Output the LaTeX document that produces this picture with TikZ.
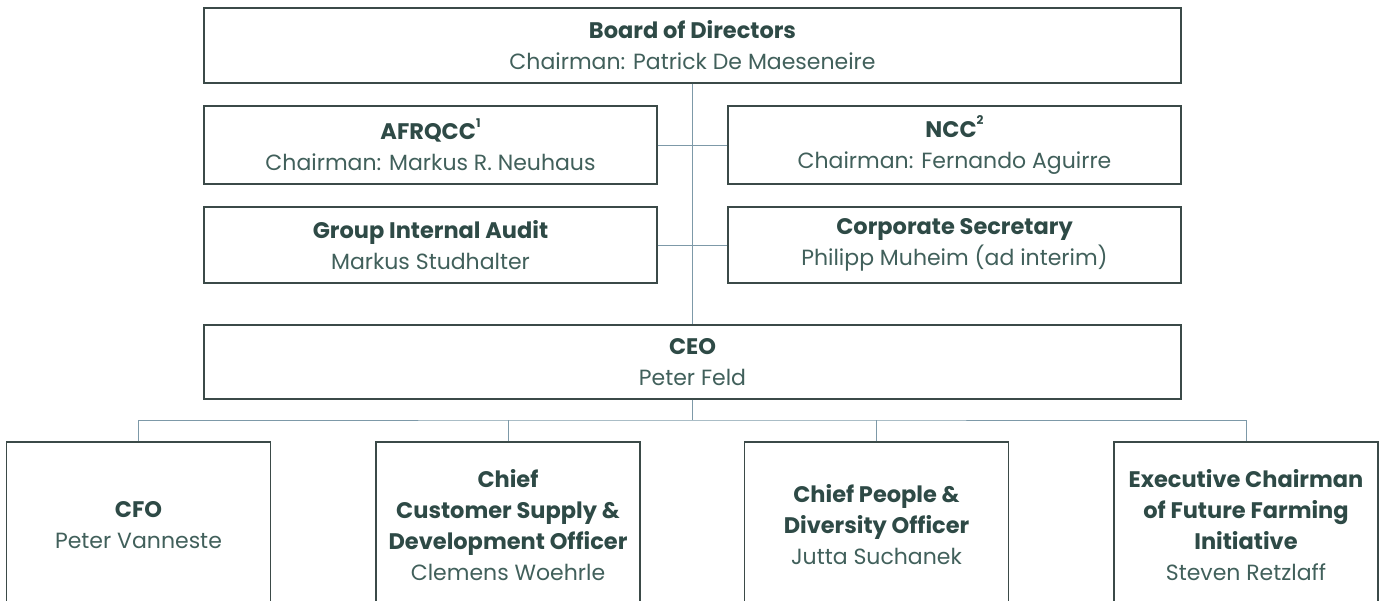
\documentclass[tikz,border=0pt]{standalone}
\usepackage{fontspec}
\setmainfont{Poppins}
\definecolor{titlec}{HTML}{2E4A46}
\definecolor{namec}{HTML}{41605B}
\definecolor{boxc}{HTML}{3B4A48}
\definecolor{linec}{HTML}{7D99A8}
\newcommand{\ttl}[1]{{\fontsize{22.5}{31}\selectfont\bfseries\color{titlec}#1}}
\newcommand{\nm}[1]{{\fontsize{22}{31}\selectfont\color{namec}#1}}
\newcommand{\supr}[1]{\raisebox{0.55em}{\fontsize{12}{12}\selectfont #1}}
\begin{document}
\begin{tikzpicture}[x=1pt,y=-1pt,
  orgbox/.style={draw=boxc,line width=1.1pt,fill=white,rectangle,inner sep=0pt,
    align=center,font=\fontsize{22}{31}\selectfont},
  wide/.style={orgbox,minimum width=977pt,minimum height=75pt},
  half/.style={orgbox,minimum width=453pt,minimum height=78pt},
  low/.style={orgbox,minimum width=264pt,minimum height=166pt},
  conn/.style={draw=linec,line width=1pt}]
\useasboundingbox (0,0) rectangle (1383,600);
\clip (0,0) rectangle (1383,600);
\coordinate (bus) at (692,420);
\node[wide] (board) at (692.5,45.5) {\ttl{Board of Directors}\\\nm{Chairman: Patrick De Maeseneire}};
\node[half] (afr) at (430.5,145) {\ttl{AFRQCC\supr{1}}\\\nm{Chairman: Markus R. Neuhaus}};
\node[half] (ncc) at (954.5,145) {\ttl{NCC\supr{2}}\\\nm{Chairman: Fernando Aguirre}};
\node[half,minimum height=76pt] (gia) at (430.5,245) {\ttl{Group Internal Audit}\\\nm{Markus Studhalter}};
\node[half,minimum height=76pt] (cs) at (954.5,245) {\ttl{Corporate Secretary}\\\nm{Philipp Muheim (ad interim)}};
\node[wide,minimum height=74pt] (ceo) at (692.5,362) {\ttl{CEO}\\\nm{Peter Feld}};
\node[low] (cfo) at (138.5,525) {\ttl{CFO}\\\nm{Peter Vanneste}};
\node[low] (ccs) at (508,525) {\ttl{Chief}\\\ttl{Customer Supply \&}\\\ttl{Development Officer}\\\nm{Clemens Woehrle}};
\node[low] (cpd) at (876.5,525) {\ttl{Chief People \&}\\\ttl{Diversity Officer}\\\nm{Jutta Suchanek}};
\node[low] (exe) at (1246,525) {\ttl{Executive Chairman}\\\ttl{of Future Farming}\\\ttl{Initiative}\\\nm{Steven Retzlaff}};
\draw[conn] (board.south -| bus) -- (ceo.north -| bus);
\draw[conn] (afr.east) -- (ncc.west);
\draw[conn] (gia.east) -- (cs.west);
\draw[conn] (ceo.south -| bus) -- (bus);
\draw[conn] (cfo.north) |- (bus) -| (exe.north);
\draw[conn] (ccs.north) -- (ccs.north |- bus);
\draw[conn] (cpd.north) -- (cpd.north |- bus);
\end{tikzpicture}
\end{document}
